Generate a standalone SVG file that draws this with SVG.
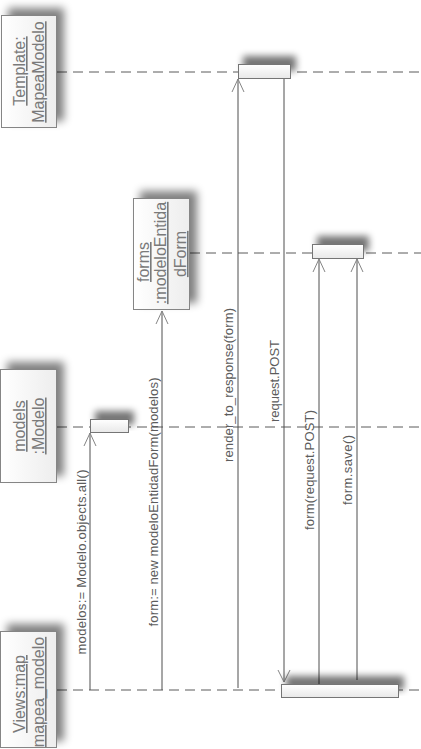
<svg xmlns="http://www.w3.org/2000/svg" width="421" height="749" viewBox="0 0 421 749">
<style>
.box{fill:url(#gNode);stroke:#858585;stroke-width:1}
.act{fill:url(#gAct);stroke:#757575;stroke-width:1}
.life{stroke:#5a5a5a;stroke-width:1;stroke-dasharray:10,6;fill:none}
.msg{stroke:#4e4e4e;stroke-width:1;fill:none}
.head{stroke:#858585;stroke-width:1;fill:none}
.nt{font-family:"Liberation Sans",Arial,sans-serif;font-size:16px;fill:#7a7a7a;text-anchor:middle;text-decoration:underline}
.lt{font-family:"Liberation Sans",Arial,sans-serif;font-size:13px;fill:#5c5c5c;text-anchor:middle}
</style>
<defs>
<linearGradient id="gNode" x1="0" y1="0" x2="1" y2="0">
<stop offset="0" stop-color="#ffffff"/><stop offset="1" stop-color="#ededed"/>
</linearGradient>
<linearGradient id="gAct" x1="0" y1="0" x2="0" y2="1">
<stop offset="0" stop-color="#ffffff"/><stop offset="1" stop-color="#e8e8e8"/>
</linearGradient>
<filter id="sh" x="-40%" y="-40%" width="180%" height="180%">
<feGaussianBlur in="SourceAlpha" stdDeviation="4"/>
<feOffset dx="7" dy="-7" result="b"/>
<feComponentTransfer><feFuncA type="linear" slope="0.5"/></feComponentTransfer>
<feMerge><feMergeNode/><feMergeNode in="SourceGraphic"/></feMerge>
</filter>
<filter id="sha" x="-40%" y="-150%" width="180%" height="300%">
<feGaussianBlur in="SourceAlpha" stdDeviation="3.5"/>
<feOffset dx="5" dy="-8" result="b"/>
<feComponentTransfer><feFuncA type="linear" slope="0.55"/></feComponentTransfer>
<feMerge><feMergeNode/><feMergeNode in="SourceGraphic"/></feMerge>
</filter>
</defs>

<g id="lifelines">
<line class="life" x1="57" y1="72" x2="421" y2="72"/>
<line class="life" x1="190" y1="253" x2="421" y2="253"/>
<line class="life" x1="57" y1="427" x2="421" y2="427"/>
<line class="life" x1="57" y1="690" x2="421" y2="690"/>
</g>

<g id="connectors">
<line class="msg" x1="90" y1="690" x2="90" y2="433"/>
<polyline class="head" points="84,446 90,433 96,446"/>
<line class="msg" x1="162" y1="690" x2="162" y2="311"/>
<polyline class="head" points="156,324 162,311 168,324"/>
<line class="msg" x1="238" y1="688" x2="238" y2="79"/>
<polyline class="head" points="232,92 238,79 244,92"/>
<line class="msg" x1="284" y1="79" x2="284" y2="682"/>
<polyline class="head" points="278,670 284,682 290,670"/>
<line class="msg" x1="319" y1="684" x2="319" y2="259"/>
<polyline class="head" points="313,272 319,259 325,272"/>
<line class="msg" x1="357" y1="680" x2="357" y2="259"/>
<polyline class="head" points="351,272 357,259 363,272"/>
<text class="lt" transform="translate(86,562) rotate(-90)" textLength="185" lengthAdjust="spacing">modelos:= Modelo.objects.all()</text>
<text class="lt" transform="translate(158,502) rotate(-90)" textLength="249" lengthAdjust="spacing">form:= new modeloEntidadForm(modelos)</text>
<text class="lt" transform="translate(233,385) rotate(-90)" textLength="154" lengthAdjust="spacing">render_to_response(form)</text>
<text class="lt" transform="translate(279,381) rotate(-90)" textLength="82" lengthAdjust="spacing">request.POST</text>
<text class="lt" transform="translate(314,470) rotate(-90)" textLength="120" lengthAdjust="spacing">form(request.POST)</text>
<text class="lt" transform="translate(352,470) rotate(-90)" textLength="70" lengthAdjust="spacing">form.save()</text>
</g>

<g id="node-template">
<rect class="box" x="1.5" y="15.5" width="55" height="112" filter="url(#sh)"/>
<text class="nt" transform="translate(25,71) rotate(-90)">Template:</text>
<text class="nt" transform="translate(44,72) rotate(-90)">MapeaModelo</text>
</g>

<g id="node-forms">
<rect class="box" x="133.5" y="198.5" width="56" height="111" filter="url(#sh)"/>
<text class="nt" transform="translate(149,262) rotate(-90)">forms</text>
<text class="nt" transform="translate(166,253) rotate(-90)">:modeloEntida</text>
<text class="nt" transform="translate(186,254) rotate(-90)">dForm</text>
</g>

<g id="node-models">
<rect class="box" x="0.5" y="369.5" width="56" height="113" filter="url(#sh)"/>
<text class="nt" transform="translate(25,426) rotate(-90)">models</text>
<text class="nt" transform="translate(44,426) rotate(-90)">:Modelo</text>
</g>

<g id="node-views">
<rect class="box" x="0.5" y="631.5" width="56" height="116" filter="url(#sh)"/>
<text class="nt" transform="translate(25,694) rotate(-90)">Views:map</text>
<text class="nt" transform="translate(44,692) rotate(-90)">mapea_modelo</text>
</g>

<g id="activations">
<rect class="act" x="238.5" y="64.5" width="52" height="14" filter="url(#sha)"/>
<rect class="act" x="312.5" y="244.5" width="51" height="14" filter="url(#sha)"/>
<rect class="act" x="90.5" y="419.5" width="38" height="13" filter="url(#sha)"/>
<rect class="act" x="281.5" y="684.5" width="117" height="13" filter="url(#sha)"/>
</g>
</svg>
